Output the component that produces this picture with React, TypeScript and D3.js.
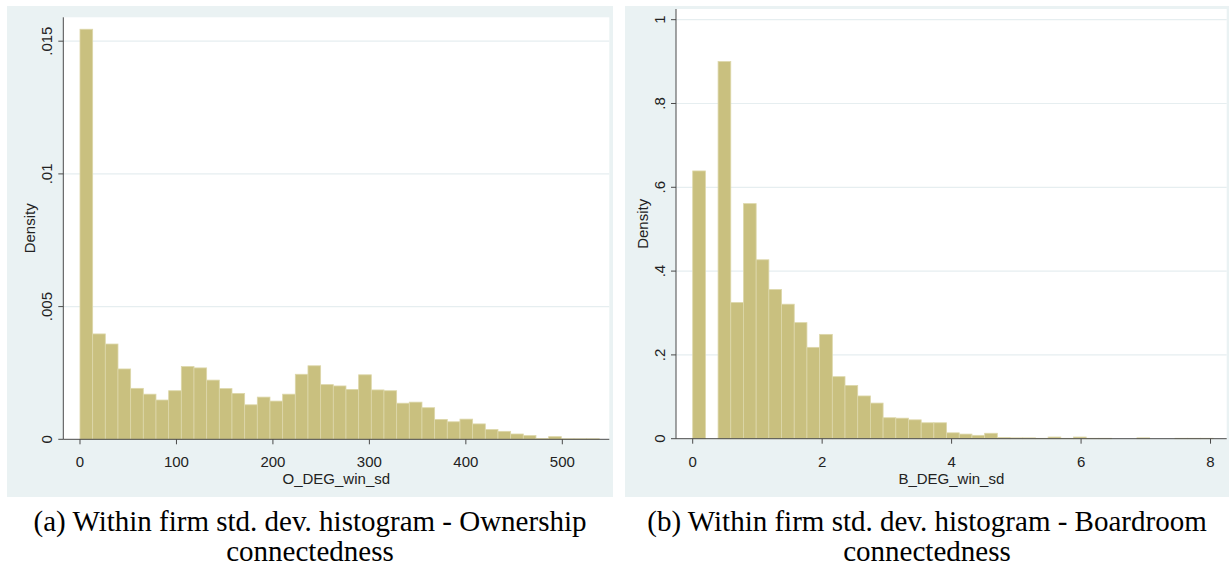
import React from 'react';
import * as d3 from 'd3';

// histogram densities (41 bins each)
const ownershipDensity = [
  0.01545, 0.00397, 0.00359, 0.00265, 0.00192, 0.0017, 0.00148, 0.00183, 0.00274, 0.00269,
  0.00223, 0.00191, 0.00173, 0.0013, 0.00159, 0.00144, 0.0017, 0.00245, 0.00277, 0.00206,
  0.00201, 0.00188, 0.00243, 0.00186, 0.00183, 0.00136, 0.0014, 0.00119, 0.00075, 0.00066,
  0.00076, 0.00058, 0.00037, 0.0003, 0.0002, 0.00014, 0.00003, 0.0001, 0.00002, 0.00002, 0.00002,
];
const ownershipBinWidth = 13.13;
const ownershipXTicks = [0, 100, 200, 300, 400, 500];
const ownershipYTicks = [0, 0.005, 0.01, 0.015];
const ownershipYLabels = ['0', '.005', '.01', '.015'];

const boardDensity = [
  0.639, 0, 0.9, 0.325, 0.561, 0.427, 0.356, 0.321, 0.277, 0.218,
  0.249, 0.148, 0.127, 0.102, 0.085, 0.05, 0.049, 0.045, 0.038, 0.038,
  0.014, 0.011, 0.008, 0.013, 0.003, 0.002, 0.002, 0.001, 0.004, 0.001,
  0.004, 0.001, 0.001, 0, 0, 0.002, 0, 0, 0.001, 0.001, 0.001,
];
const boardBinWidth = 0.1961;
const boardXTicks = [0, 2, 4, 6, 8];
const boardYTicks = [0, 0.2, 0.4, 0.6, 0.8, 1];
const boardYLabels = ['0', '.2', '.4', '.6', '.8', '1'];

const BG = '#eaf2f3';
const BAR = '#c9c07f';
const AXIS = '#4a4a4a';
const SANS = 'Liberation Sans, Arial, sans-serif';
const SERIF = 'Liberation Serif, Times New Roman, serif';

type PanelProps = {
  box: [number, number, number, number]; // background panel x0,y0,x1,y1
  plot: [number, number, number, number]; // plot area left, top, right, bottom
  xDomain: [number, number];
  yMax: number;
  values: number[];
  binWidth: number;
  xTicks: number[];
  yTicks: number[];
  yLabels: string[];
  xTitle: string;
  caption: string[];
};

const Panel = ({ box, plot, xDomain, yMax, values, binWidth, xTicks, yTicks, yLabels, xTitle, caption }: PanelProps) => {
  const [l, t, r, b] = plot;
  const x = d3.scaleLinear().domain(xDomain).range([l, r]);
  const y = d3.scaleLinear().domain([0, yMax]).range([b, t]);
  const cx = (box[0] + box[2]) / 2;

  return (
    <g>
      <rect x={box[0]} y={box[1]} width={box[2] - box[0]} height={box[3] - box[1]} fill={BG} />
      <rect x={l} y={t} width={r - l} height={b - t} fill="#fff" />
      {/* grid lines */}
      {yTicks.filter(v => v > 0).map(v => (
        <line key={v} x1={l} x2={r} y1={y(v)} y2={y(v)} stroke="#e6eef0" strokeWidth={1.2} />
      ))}
      {/* bars */}
      {values.map((v, i) => (
        v > 0 ? (
          <rect key={i}
            x={x(i * binWidth)}
            y={y(v)}
            width={x((i + 1) * binWidth) - x(i * binWidth)}
            height={y(0) - y(v)}
            fill={BAR}
            stroke="#ddd7aa"
            strokeWidth={0.8} />
        ) : null
      ))}
      {/* axes */}
      <line x1={l} x2={l} y1={t} y2={b} stroke={AXIS} strokeWidth={1} />
      <line x1={l} x2={r} y1={b} y2={b} stroke={AXIS} strokeWidth={1} />
      {yTicks.map((v, i) => (
        <g key={v}>
          <line x1={l - 5} x2={l} y1={y(v)} y2={y(v)} stroke={AXIS} />
          <text transform={`translate(${l - 11},${y(v)}) rotate(-90)`} textAnchor="middle"
            fontFamily={SANS} fontSize={15} fill="#222">{yLabels[i]}</text>
        </g>
      ))}
      {xTicks.map(v => (
        <g key={v}>
          <line x1={x(v)} x2={x(v)} y1={b} y2={b + 5} stroke={AXIS} />
          <text x={x(v)} y={b + 28} textAnchor="middle" fontFamily={SANS} fontSize={15} fill="#222">{v}</text>
        </g>
      ))}
      <text transform={`translate(${l - 28},${(t + b) / 2}) rotate(-90)`} textAnchor="middle"
        fontFamily={SANS} fontSize={15} fill="#222">Density</text>
      <text x={(l + r) / 2} y={b + 45} textAnchor="middle" fontFamily={SANS} fontSize={15} fill="#222">{xTitle}</text>
      {caption.map((line, i) => (
        <text key={i} x={cx} y={531 + i * 30} textAnchor="middle" fontFamily={SERIF} fontSize={29} fill="#000">{line}</text>
      ))}
    </g>
  );
};

export default function App() {
  return (
    <div style={{ position: 'absolute', left: 0, top: 0 }}>
      <svg width={1231} height={568} style={{ display: 'block', background: '#fff' }}>
        <Panel
          box={[7, 6, 613, 497]}
          plot={[63.3, 17.3, 609.3, 439.3]}
          xDomain={[-17.3, 548.7]}
          yMax={0.0159}
          values={ownershipDensity}
          binWidth={ownershipBinWidth}
          xTicks={ownershipXTicks}
          yTicks={ownershipYTicks}
          yLabels={ownershipYLabels}
          xTitle="O_DEG_win_sd"
          caption={['(a) Within firm std. dev. histogram - Ownership', 'connectedness']}
        />
        <Panel
          box={[625, 6, 1229, 497]}
          plot={[676, 9, 1226.7, 438.7]}
          xDomain={[-0.258, 8.25]}
          yMax={1.0255}
          values={boardDensity}
          binWidth={boardBinWidth}
          xTicks={boardXTicks}
          yTicks={boardYTicks}
          yLabels={boardYLabels}
          xTitle="B_DEG_win_sd"
          caption={['(b) Within firm std. dev. histogram - Boardroom', 'connectedness']}
        />
      </svg>
    </div>
  );
}
